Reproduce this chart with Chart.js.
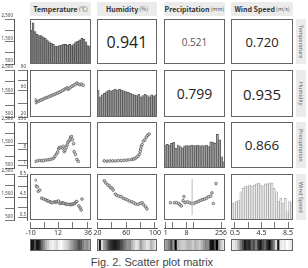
<!DOCTYPE html>
<html lang="en">
<head>
<meta charset="UTF-8">
<title>Scatter plot matrix</title>
<style>
  body { margin: 0; background: #fff; font-family: "Noto Sans", Arial, sans-serif; }
  #wrap { position: relative; width: 308px; height: 268px; overflow: hidden; }
  canvas { position: absolute; }
  .box { position: absolute; border: 1px solid #666; box-sizing: border-box; pointer-events: none; }
  .corr { position: absolute; border: 1px solid #666; box-sizing: border-box; display: flex;
          align-items: center; justify-content: center; font-family: "Open Sans", sans-serif; color: #222; }
  .head { position: absolute; top: 2px; height: 14px; background: #ebebeb; border-radius: 2px;
          display: flex; align-items: center; justify-content: center; white-space: nowrap;
          font-family: "Noto Sans CJK KR", "Noto Sans", sans-serif; font-size: 7px; font-weight: bold; color: #333; }
  .head span { font-size: 5.5px; font-weight: normal; color: #555; margin-left: 1px; }
  .side { position: absolute; left: 296px; width: 10px; background: #ebebeb; writing-mode: vertical-rl;
          display: flex; align-items: center; justify-content: center; white-space: nowrap;
          font-size: 5.5px; color: #666; }
  #caption { position: absolute; left: 0; width: 304px; top: 256px; text-align: center;
             font-family: "Liberation Sans", Arial, sans-serif; font-size: 11px; color: #444; }
</style>
</head>
<body>
<div id="wrap">
  <div id="caption">Fig. 2. Scatter plot matrix</div>
</div>
<script src="https://cdn.jsdelivr.net/npm/chart.js"></script>
<script>
// ---- values ----
const varNames = ['Temperature', 'Humidity', 'Precipitation', 'Wind Speed'];
const varUnits = ['(℃)', '(%)', '(mm)', '(m/s)'];

// upper triangle: [row, col, text]
const corrCells = [[0, 1, '0.941'], [0, 2, '0.521'], [0, 3, '0.720'], [1, 2, '0.799'], [1, 3, '0.935'], [2, 3, '0.866']];

// diagonal histograms (counts)
const tempCounts = [2010, 2330, 1940, 1820, 1760, 1760, 1710, 1640, 1570, 1490, 1420, 1370, 1300, 1300, 1320,
                    1340, 1370, 1370, 1340, 1370, 1320, 1400, 1490, 1520, 1570, 1640, 1610, 1490, 1320, 1270];
const humCounts = [1650, 1360, 1440, 1510, 1580, 1650, 1610, 1650, 1690, 1650, 1690, 1650, 1610, 1580,
                   1550, 1510, 1470, 1440, 1410, 1470, 1360, 1410, 1470, 1410, 1360, 1440, 1400, 1440];
const precCounts = [1470, 1530, 1500, 1570, 1620, 1360, 1500, 1430, 1380, 1460, 1470, 1460, 1500, 1470,
                    1470, 1500, 1460, 1470, 1460, 1500, 1430, 1640, 1620, 1570, 1960, 1720, 990, 770];
const windCounts = [1230, 1250, 1300, 1340, 1730, 1880, 1950, 1980, 2020, 1980, 2020, 2070, 2100, 2020,
                    1980, 2070, 2070, 2120, 2100, 1880, 1730, 1300, 1440, 1230, 1440, 860, 1300, 1230];

// lower triangle scatter points [x, y]
const humVsTemp = [[-10, 43], [-9.2, 38], [-7.9, 40], [-6.5, 41], [-5, 42.5], [-3.5, 43.5], [-2, 45], [-0.5, 46.5],
  [1, 47.5], [2.5, 48.5], [4, 50], [5.5, 51], [7, 52.5], [8.5, 53.5], [10, 55], [11.5, 56], [13, 57.5],
  [14.5, 59], [16, 60.5], [17.5, 62.5], [19, 64], [20.2, 65.5], [21.2, 63], [22.2, 64.5], [23.5, 66.5],
  [25, 68.5], [26.5, 70], [28, 72], [29.5, 74.5], [31, 72.5], [32.5, 71.5], [34, 72.5], [35.5, 70]];
const precVsTemp = [[-10, 1.0], [-7.9, 1.1], [-5.7, 1.2], [-3.9, 1.1], [-2.0, 1.2], [0.1, 1.25], [2.3, 1.3],
  [4.1, 1.4], [6.1, 1.5], [7.7, 1.8], [8.7, 2.3], [10.3, 3.3], [11.2, 4.5], [12.2, 7.4], [13, 9.1], [14.1, 9.8],
  [15.7, 8.3], [16.7, 11.2], [17.5, 4.8], [18.3, 5.9], [19.4, 9.1], [20.2, 13.8], [21, 21], [22.1, 26],
  [22.9, 32], [23.7, 49], [24.5, 54], [25.3, 32], [26.4, 17], [26.9, 4.8], [28.2, 3.1], [29.6, 1.4], [30.9, 1.0]];
const precVsHum = [[23.5, 1.1], [28, 1.05], [32.7, 1.1], [37.4, 1.1], [42, 1.1], [46.7, 1.16], [51.3, 1.16],
  [55.9, 1.2], [60.6, 1.25], [65, 1.3], [69.7, 1.4], [72, 1.5], [74.4, 1.6], [76.7, 1.95], [79, 2.3],
  [81.4, 3.1], [82.8, 4.8], [83.6, 7.3], [84.6, 11.2], [86, 15], [88.3, 26], [90.6, 32], [93, 49], [95.3, 66], [97.5, 80]];
const windVsTemp = [[-10, 8.7], [-9.2, 7.2], [-7.9, 7.0], [-7.1, 5.9], [-5.7, 6.2], [-3.9, 4.2], [-2, 4.0],
  [0.1, 3.8], [1.2, 3.6], [2.3, 3.5], [4.1, 3.3], [5, 3.2], [6.1, 3.1], [8.1, 3.3], [9.2, 3.2], [10.3, 3.3],
  [11, 3.4], [12.2, 3.5], [13.5, 2.9], [14.6, 3.0], [15.7, 3.1], [16.6, 3.0], [17.5, 2.9], [18.9, 2.8],
  [20, 2.7], [21, 2.7], [22.9, 2.7], [23.8, 2.6], [24.8, 2.7], [25.8, 2.8], [26.9, 2.8], [27.8, 3.0],
  [28.8, 3.3], [29.6, 3.4], [31.4, 2.3], [32.8, 1.8], [33.6, 1.3], [34.4, 4.0]];
const windVsHum = [[23.5, 8.5], [25.8, 8.0], [29, 7.5], [31.8, 7.3], [33.6, 6.8], [36.4, 6.7], [38.3, 6.2],
  [42, 5.2], [44.3, 4.9], [47.5, 4.7], [51.3, 4.6], [55, 4.2], [58.2, 4.0], [61.4, 3.8], [65.1, 3.5],
  [68.9, 3.3], [72.1, 3.1], [75.3, 2.8], [79, 2.7], [82.8, 2.9], [86, 3.1], [88.3, 2.6], [91.5, 2.1], [93.9, 1.6]];
const windVsPrec = [[1.02, 3.1], [1.65, 3.1], [2.1, 3.1], [2.7, 2.9], [3.2, 2.6], [3.8, 2.3], [4.6, 3.6],
  [5.1, 4.6], [5.9, 3.1], [7.7, 3.3], [9.8, 3.1], [12.6, 2.9], [15.5, 2.9], [19.7, 3.1], [24.8, 3.3],
  [30.3, 3.5], [38.7, 3.7], [48.8, 3.9], [59.5, 4.0], [75, 4.2], [95, 4.6], [122, 4.7], [142, 5.5], [167, 2.9], [230, 7.8]];
const precRefLine = 13.5;

// shade strips under each column (0 = black, 1 = white)
const tempShades = [0.05, 0.1, 0.3, 0.05, 0.15, 0.4, 0.55, 0.7, 0.8, 0.9, 0.95, 0.9, 0.85, 0.95,
                    1, 0.9, 0.85, 0.8, 0.7, 0.6, 0.5, 0.45, 0.3, 0.35, 0.5, 0.6, 0.55, 0.7];
const humShades = [0.9, 0.1, 0.85, 0.6, 0.5, 0.3, 0.2, 0.15, 0.1, 0.15, 0.2, 0.3, 0.4, 0.5,
                   0.6, 0.55, 0.7, 0.8, 0.9, 0.85, 0.6, 0.75, 0.8, 0.9, 0.85, 0.7, 0.8, 0.9];
const precShades = [0.7, 0.6, 0.5, 0.3, 0.6, 0.0, 0.7, 0.75, 0.8, 0.8, 0.75, 0.7, 0.75, 0.8,
                    0.7, 0.75, 0.8, 0.7, 0.6, 0.5, 0.55, 0.1, 0.05, 0.3, 0.0, 0.6, 0.8, 0.9];
const windShades = [0.95, 0.9, 0.85, 0.7, 0.5, 0.3, 0.1, 0.2, 0.15, 0.4, 0.3, 0.5, 0.2, 0.1,
                    0.3, 0.4, 0.2, 0.05, 0.3, 0.5, 0.85, 0.1, 0.9, 0.95, 0.9, 1, 0.95, 0.9];

// axis ticks
const countTicks = [500, 1000, 1500, 2000, 2500];
const countLabels = ['500', '', '1,500', '', '2,500'];
const colTicks = [[-10, 1, 12, 24, 36], [20, 40, 60, 80, 100], [1, 2, 8, 16, 256], [0.5, 2.5, 4.5, 6.5, 8.5]];
const colLabels = [['-10', '', '12', '', '36'], ['20', '', '60', '', '100'], ['1', '', '8', '', '256'], ['0.5', '', '4.5', '', '8.5']];
const rowTicks = [null, [20, 40, 60, 75, 90], [1, 2, 8, 16, 256], [0.5, 2.5, 4.5, 6.5, 8.5]];
const rowLabels = [null, ['20', '', '60', '', '90'], ['1', '', '8', '', '256'], ['0.5', '', '4.5', '', '8.5']];

// ---- layout ----
const cols = [{x: 30, w: 61}, {x: 97, w: 60}, {x: 164, w: 61}, {x: 231, w: 62}];
const rows = [{y: 19, h: 45}, {y: 70, h: 47}, {y: 122, h: 46}, {y: 174, h: 46}];
const xScales = [
  {type: 'linear', min: -10.5, max: 38.5},
  {type: 'linear', min: 19.3, max: 102.8},
  {type: 'logarithmic', min: 0.84, max: 382},
  {type: 'linear', min: -0.1, max: 9.25}
];
const yScales = [
  null,
  {type: 'linear', min: 20, max: 90},
  {type: 'logarithmic', min: 0.75, max: 256},
  {type: 'linear', min: 0, max: 9}
];
const countScale = {type: 'linear', min: 500, max: 2500};

Chart.defaults.animation = false;
Chart.defaults.plugins.legend.display = false;
Chart.defaults.plugins.tooltip.enabled = false;
Chart.defaults.font.family = '"Noto Sans", Arial, sans-serif';

const wrap = document.getElementById('wrap');

function addCanvas(x, y, w, h) {
  const c = document.createElement('canvas');
  c.width = w; c.height = h;
  c.style.left = x + 'px'; c.style.top = y + 'px';
  c.style.width = w + 'px'; c.style.height = h + 'px';
  wrap.appendChild(c);
  return c;
}

function addDiv(cls, x, y, w, h, html) {
  const d = document.createElement('div');
  d.className = cls;
  d.style.left = x + 'px'; d.style.top = y + 'px';
  if (w != null) d.style.width = w + 'px';
  if (h != null) d.style.height = h + 'px';
  if (html) d.innerHTML = html;
  wrap.appendChild(d);
  return d;
}

function hidden(s) {
  return Object.assign({}, s, {display: false, bounds: 'data'});
}

function scatterPanel(r, c, pts, refX) {
  const cv = addCanvas(cols[c].x, rows[r].y, cols[c].w, rows[r].h);
  const datasets = [];
  if (refX != null) {
    datasets.push({
      type: 'line', data: [{x: refX, y: yScales[r].min}, {x: refX, y: yScales[r].max}],
      borderColor: '#bbb', borderWidth: 1, pointRadius: 0
    });
  }
  datasets.push({
    data: pts.map(p => ({x: p[0], y: p[1]})),
    pointRadius: 1.35, pointBackgroundColor: '#d0d0d0', pointBorderColor: '#555', pointBorderWidth: 0.7
  });
  new Chart(cv, {
    type: 'scatter',
    data: {datasets},
    options: {responsive: false, layout: {padding: 0},
      scales: {x: hidden(xScales[c]), y: hidden(yScales[r])}}
  });
  addDiv('box', cols[c].x, rows[r].y, cols[c].w, rows[r].h);
}

function histPanel(i, counts, fill, edge) {
  const cv = addCanvas(cols[i].x, rows[i].y, cols[i].w, rows[i].h);
  new Chart(cv, {
    type: 'bar',
    data: {labels: counts.map((_, k) => k),
      datasets: [{data: counts, backgroundColor: fill, borderColor: edge, borderWidth: 0.7,
        categoryPercentage: 1, barPercentage: 1}]},
    options: {responsive: false, layout: {padding: 0},
      scales: {x: {display: false}, y: hidden(countScale)}}
  });
  addDiv('box', cols[i].x, rows[i].y, cols[i].w, rows[i].h);
}

function stripPanel(c, shades) {
  const y = 239, h = 12;
  const cv = addCanvas(cols[c].x, y, cols[c].w, h);
  new Chart(cv, {
    type: 'bar',
    data: {labels: shades.map((_, k) => k),
      datasets: [{data: shades.map(() => 1), borderWidth: 0, categoryPercentage: 1, barPercentage: 1,
        backgroundColor: shades.map(v => { const g = Math.round(v * 255); return `rgb(${g},${g},${g})`; })}]},
    options: {responsive: false, layout: {padding: 0},
      scales: {x: {display: false}, y: {display: false, min: 0, max: 1}}}
  });
  addDiv('box', cols[c].x, y, cols[c].w, h);
}

function leftAxis(r, min, max, ticks, labels, width, weight, extra) {
  return Object.assign({}, extra, {
    position: 'left', weight, min, max, bounds: 'data',
    afterBuildTicks: s => { s.ticks = ticks.map(v => ({value: v})); },
    afterFit: s => { s.width = width; s.paddingTop = 0; s.paddingBottom = 0; },
    grid: {drawOnChartArea: false, tickLength: 9, color: '#555', lineWidth: 0.8},
    border: {color: '#555', width: 1},
    ticks: {autoSkip: false, padding: -8, labelOffset: -3, color: '#444', font: {size: 4.5},
      callback: (v, i) => labels[i]}
  });
}

function yAxisChart(r) {
  const m = 6;
  const cv = addCanvas(0, rows[r].y - m, 29, rows[r].h + 2 * m);
  const scales = {
    x: {display: false, min: 0, max: 1},
    yo: leftAxis(r, countScale.min, countScale.max, countTicks, countLabels, 14, 10, {type: 'linear'})
  };
  if (r > 0) {
    scales.yi = leftAxis(r, yScales[r].min, yScales[r].max, rowTicks[r], rowLabels[r], 13, 0, {type: yScales[r].type});
  }
  new Chart(cv, {
    type: 'scatter',
    data: {datasets: []},
    options: {responsive: false, layout: {padding: {top: m, bottom: m, left: 0, right: 0}}, scales}
  });
}

function xAxisChart(c) {
  const m = 9;
  const cv = addCanvas(cols[c].x - m, 222, cols[c].w + 2 * m, 17);
  new Chart(cv, {
    type: 'scatter',
    data: {datasets: []},
    options: {responsive: false, layout: {padding: {left: m, right: m, top: 0, bottom: 0}},
      scales: {
        x: Object.assign({}, xScales[c], {
          position: 'bottom', bounds: 'data',
          afterBuildTicks: s => { s.ticks = colTicks[c].map(v => ({value: v})); },
          afterFit: s => { s.height = 11; s.paddingLeft = 0; s.paddingRight = 0; },
          grid: {drawOnChartArea: true, drawTicks: false, color: '#555', lineWidth: 0.8},
          border: {color: '#555', width: 1},
          ticks: {autoSkip: false, maxRotation: 0, padding: 1, color: '#333', font: {size: 7},
            callback: (v, i) => colLabels[c][i]}
        }),
        y: {display: false, min: 0, max: 1}
      }}
  });
}

// headers and side labels
varNames.forEach((name, i) => {
  addDiv('head', cols[i].x, 2, cols[i].w, null, name + '<span>' + varUnits[i] + '</span>');
  addDiv('side', 296, rows[i].y, null, rows[i].h, name);
});

// correlation cells
const corrSizes = {'0.941': 16, '0.521': 10, '0.720': 13, '0.799': 14, '0.935': 15, '0.866': 13.5};
corrCells.forEach(([r, c, txt]) => {
  const d = addDiv('corr', cols[c].x, rows[r].y, cols[c].w, rows[r].h, txt);
  d.style.fontSize = corrSizes[txt] + 'px';
  if (txt === '0.521') d.style.color = '#555';
});

// diagonal
histPanel(0, tempCounts, '#8c8c8c', '#444');
histPanel(1, humCounts, '#9a9a9a', '#4a4a4a');
histPanel(2, precCounts, '#a0a0a0', '#4a4a4a');
histPanel(3, windCounts, '#ececec', '#a0a0a0');

// lower triangle
scatterPanel(1, 0, humVsTemp);
scatterPanel(2, 0, precVsTemp);
scatterPanel(2, 1, precVsHum);
scatterPanel(3, 0, windVsTemp);
scatterPanel(3, 1, windVsHum);
scatterPanel(3, 2, windVsPrec, precRefLine);

// axes and strips
[0, 1, 2, 3].forEach(r => yAxisChart(r));
[0, 1, 2, 3].forEach(c => xAxisChart(c));
stripPanel(0, tempShades);
stripPanel(1, humShades);
stripPanel(2, precShades);
stripPanel(3, windShades);
</script>
</body>
</html>
